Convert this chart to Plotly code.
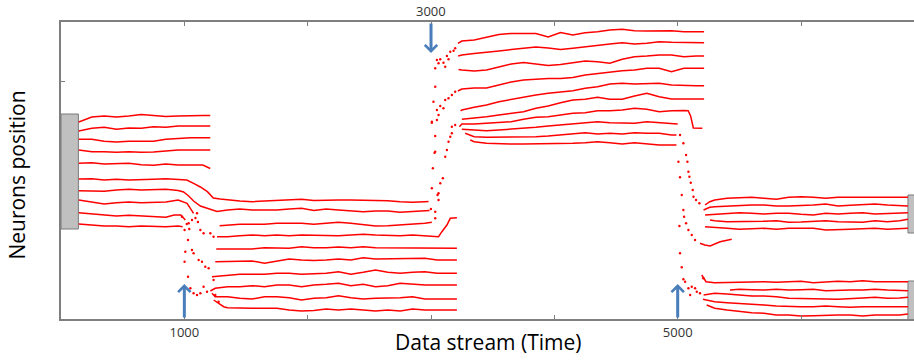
import plotly.graph_objects as go

# ---------------- data (time in samples, position in arbitrary units) ----------------
t_p1 = [144, 250, 350, 450, 550, 650, 750, 850, 950, 1050, 1150, 1210]
t_p2 = [1350, 1450, 1550, 1650, 1750, 1850, 1950, 2050, 2150, 2250, 2350, 2450,
        2550, 2650, 2750, 2850, 2950]
t_p2_tail = [3050, 3150, 3210]
t_p3 = [3250, 3350, 3450, 3550, 3650, 3750, 3850, 3950, 4050, 4150, 4250, 4350,
        4450, 4550, 4650, 4750, 4850, 4950, 5050, 5150]
t_p4 = [5300, 5400, 5500, 5600, 5700, 5800, 5900, 6000, 6100, 6200, 6300, 6400,
        6500, 6600, 6700, 6800]

# phase 1 neurons (first stable band)
n01 = [197, 202, 203, 202, 203, 204.5, 203.5, 202.5, 203, 203.5, 203.5, 203.5]
n02 = [188, 190.7, 191.7, 189.7, 191, 190.7, 192.3, 191.7, 193, 193, 193, 193]
n03 = [179.7, 179.7, 177.7, 177, 177.7, 177.7, 177.7, 179.7, 180.7, 181.3, 181.3, 181.3]
n04 = [169, 167.3, 167.3, 166.7, 167.3, 166.7, 167, 168.3, 169, 169, 169, 169]
n05 = [155.7, 156.3, 155, 155, 155.7, 154.3, 153.7, 155, 154, 154, 154, 150.5]

t_n06 = t_p1[:9] + [1020, 1075, 1130, 1187, 1235, 1290] + t_p2 + [2980]
n06 = [140, 140.3, 139, 139.7, 139, 139.7, 139.7, 140.3, 139.7,
       139, 135.7, 132, 127.3, 121, 120,
       119, 118, 117.3, 118, 119, 119, 119.7, 118.5, 119, 119, 119, 119, 118.3,
       118.3, 117.3, 116.7, 117.3, 117.5]
t_n07 = t_p1[:9] + [994, 1035, 1075, 1130, 1200, 1265] + t_p2 + [2988]
n07 = [128.3, 128.3, 127.7, 129, 129.7, 129, 129, 129.7, 128.5,
       127, 123, 118, 113, 110, 107.5,
       109, 110, 109, 109, 109, 110, 110.7, 108.5, 110, 109, 108, 107.3, 108,
       108, 106.7, 107.3, 108, 108.5]
t_n08 = t_p1[:9] + [1022, 1075]
n08 = [119, 117.3, 115, 116.3, 117, 116.3, 117, 117, 119, 115.7, 105.7]
t_n09 = t_p1[:8] + [918, 972, 1008]
n09 = [106.3, 105, 104, 103, 103.7, 103, 102.3, 101.7, 104, 104, 99]
t_n10 = t_p1[:9] + [986]
n10 = [95, 94, 93, 93, 92.3, 93, 92.3, 92.3, 93, 92.3]

# phase 2 neurons (lower band)
t_m03 = [1286] + t_p2 + [3007]
m03 = [93.3, 94, 94.7, 94.7, 94.7, 95.7, 95.7, 95.7, 94.7, 95.7, 96.7, 95.7, 94.7,
       93, 93.3, 94, 94.7, 95.7, 96.7]
t_m04 = [1265] + t_p2 + [2999, 3061, 3088, 3129, 3156, 3210]
m04 = [82.3, 82.3, 83.3, 84, 83.3, 84, 83.3, 84, 83.7, 83.3, 83.3, 84, 84.7, 84,
       83.3, 83.3, 84, 83.3, 82.3, 82.3, 87.3, 94, 100.7, 101.3]
t_m05 = [1259] + t_p2 + t_p2_tail
m05 = [70, 70, 70.7, 70, 71.3, 71.3, 70.7, 72.3, 71.3, 71.3, 72, 71.3, 72.3, 71.3,
       71.3, 70.7, 70.7, 71.3, 70.7, 70.7, 70.7]
t_m06 = [1251] + t_p2 + t_p2_tail
m06 = [57.3, 57.3, 57.3, 58, 55.7, 58, 60, 59, 58.5, 59, 60, 59, 61.3, 60, 60, 60,
       60, 60.7, 59, 59, 59]
t_m07 = [1224] + t_p2 + t_p2_tail
m07 = [42.3, 44, 44.7, 44.7, 44.7, 45.7, 45.7, 44.7, 45.5, 45.7, 47.3, 44.7, 46.7,
       49, 46.7, 45.7, 46.7, 47.3, 45.7, 45.7, 45.7]
t_m08 = [1211, 1250] + t_p2 + t_p2_tail
m08 = [28, 30.7, 32.3, 32.3, 33.3, 32.3, 34, 34, 32.3, 34, 34.7, 35.7, 33.3, 34.7,
       32.3, 33.3, 35.7, 34.7, 34, 34, 34, 34]
t_m09 = [1224, 1250] + t_p2 + t_p2_tail
m09 = [25.7, 22.3, 22.3, 20.7, 20, 22.3, 22.3, 21.3, 19, 20.7, 21.3, 23.3, 21.3, 20,
       20.7, 20.7, 21.3, 22.3, 20, 20, 20, 20]
t_m10 = [1238, 1319] + t_p2 + t_p2_tail
m10 = [19, 12.3, 11.3, 10.7, 10.7, 10.7, 10.7, 9, 8, 8.5, 10, 9, 10, 9, 8, 9, 8, 10,
       9, 9, 9, 9]

# phase 3 neurons (upper band)
t_u01 = [3218] + t_p3 + [5214]
u01 = [275.7, 278, 279, 282, 284.5, 285.5, 285.5, 285.5, 282, 286.5, 284, 286.3,
       287.3, 289, 289.7, 288.3, 288, 288.3, 288.3, 287.3, 287.3, 287.3]
t_u02 = [3220] + t_p3 + [5214]
u02 = [263, 264, 265.5, 266.5, 268, 269.5, 271, 272, 271, 269.5, 270.7, 272.3, 274,
       275, 276.3, 275, 275.7, 277.3, 276.7, 276.3, 276.3, 276.3]
t_u03 = [3223] + t_p3 + [5214]
u03 = [249.5, 249, 248, 249, 252, 255, 256.5, 255, 253.5, 254.5, 256, 258, 257.3,
       255.7, 259.7, 262.3, 263, 264, 264, 262.3, 263, 263]
t_u04 = [3218] + t_p3 + [5214]
u04 = [228, 230, 231, 231, 234, 237, 239, 240, 240.5, 240.5, 241.5, 244, 245.5,
       247.3, 248.3, 249, 250.7, 250.7, 247.3, 250.7, 250.7, 250.7]
t_u05 = [3240] + t_p3 + [5214]
u05 = [208, 209, 211.7, 214, 217.3, 219.7, 222.3, 224, 225.7, 227.3, 228.3, 230.7,
       232.3, 235, 235.7, 235, 235.7, 235.7, 234, 233.3, 233.3, 233.3]
t_u06 = t_p3 + [5214]
u06 = [199.7, 200.7, 202.3, 204, 205.7, 207.3, 210.7, 213, 216.3, 219, 219.7, 221.7,
       219.7, 219.7, 223, 225.7, 222.3, 220, 220, 220, 220]
t_u07 = [3230] + t_p3[:19] + [5085, 5105, 5127, 5200]
u07 = [192.3, 195, 195, 195.7, 196.3, 197.3, 199.7, 201.7, 202.3, 204, 205.7, 206.3,
       208.3, 208.3, 209, 210.7, 209.7, 207.3, 208.3, 208.5, 208.3, 203, 191, 190.7]
t_u08 = t_p3[:18] + [5000]
u08 = [189.7, 189, 188.3, 189, 189.7, 190.7, 191.7, 193, 194, 195, 195.7, 197.3,
       196.3, 195.7, 195.7, 197.3, 196.3, 195.7, 195]
t_u09 = [3277] + t_p3[1:18] + [4990]
u09 = [185.7, 182.3, 181.7, 181.7, 181.7, 182.3, 182.3, 183, 184, 185.7, 186.3, 185,
       185.7, 185, 186.3, 185.7, 185.7, 184, 184]
t_u10 = [3318] + t_p3[1:18] + [4990]
u10 = [179, 177.3, 175.7, 175, 175, 175, 175, 175, 175, 175.7, 176.3, 177.3, 176.3,
       175, 176.3, 175, 174, 174, 174]

# phase 4 neurons (two bands)
t_p01 = [5222, 5260] + t_p4 + [6867]
p01 = [114, 117.3, 119, 120.7, 121.3, 121.7, 120.7, 119.7, 121.7, 122.3, 121.7, 120.7,
       121.7, 121.7, 122.3, 121.7, 122.3, 122.3, 121.7]
t_p02 = [5210, 5260] + t_p4 + [6867]
p02 = [109, 111.7, 112.3, 113, 114, 114, 114, 113, 113, 113.3, 114, 115, 113, 113.7,
       114, 115, 114, 113.7, 113]
t_p03 = [5222] + t_p4 + [6867]
p03 = [104, 104.7, 105, 106.3, 105.7, 105, 105.7, 105.7, 104.7, 104, 105.7, 105,
       105.7, 106.3, 105, 105.7, 105.7, 106.3]
t_p04 = [5262] + t_p4 + [6867]
p04 = [99, 98.3, 97.3, 97.3, 97.3, 97.7, 98.3, 96.7, 97, 97.3, 98.3, 97.3, 97, 96.7,
       98.3, 97.3, 98.3, 99.7]
t_p05 = [5222] + t_p4 + [6867]
p05 = [92.3, 91.3, 90.7, 89.7, 90.3, 90.7, 89.7, 90.7, 90.7, 90.7, 89, 89.7, 89.7,
       90.3, 90.7, 89.7, 90.3, 90.7]
t_p06 = [5181, 5220, 5263, 5300, 5344, 5438]
p06 = [75.7, 74, 73, 75, 77.3, 79.7]
t_q01 = [5195, 5230] + t_p4 + [6867]
q01 = [44, 37.3, 36.3, 36.7, 37.3, 37, 37.3, 36.7, 37.3, 37.7, 36.3, 37.3, 37.7, 37.3,
       38.3, 37.3, 37.3, 37.7, 37.3]
t_q02 = [5424] + t_p4[2:] + [6867]
q02 = [29, 29.7, 29.3, 29, 29.7, 29, 29.3, 29.7, 28.3, 29, 29, 29, 29.7, 29, 28.7, 28.3]
t_q03 = [5210] + t_p4 + [6867]
q03 = [24, 25.7, 25, 24, 23, 23, 22.3, 20.7, 20.7, 20.7, 20, 19.7, 20.7, 21, 21.7,
       20.7, 21, 21.7]
t_q04 = [5205] + t_p4 + [6867]
q04 = [19.7, 17.3, 16.3, 15.7, 15, 14, 13, 12.3, 12.3, 12.3, 13, 12.3, 11.7, 12.3,
       12.3, 13, 12.3, 12.3]
t_q05 = [5235] + t_p4 + [6867]
q05 = [14, 10.7, 9, 7.3, 6.3, 5.7, 4, 4, 3, 3.3, 4, 4, 4, 3, 4, 4, 4, 5]

# scattered samples while neurons migrate after each change
jump1_t = [981, 1002, 1030, 1008, 1002, 1030, 1049, 1075, 1103, 1130, 1156, 1184,
           1062, 1075, 1116, 1143, 1170, 1197, 1130, 1156, 1035, 1062, 1103, 1211,
           1237, 1237, 1251, 1278, 1090, 1110, 1020, 1040]
jump1_v = [102.3, 89, 79, 67.3, 57.3, 42.3, 30.7, 25.7, 24, 25.7, 32.3, 27.3,
           69, 65.7, 59, 57.3, 52.3, 50.7, 89, 85.7, 95.7, 99, 105.7, 85.7,
           82.3, 39, 24, 17.3, 101, 97, 95, 90]
jump2_t = [3007, 3061, 3061, 2999, 3034, 3075, 3053, 3034, 3007, 3034, 3029, 3015,
           3096, 3115, 3034, 3129, 3142, 3156, 3169, 3169, 3196, 3007, 3048, 3061,
           3020, 3048, 3075, 3101, 3115, 3142, 3169, 3196, 3034, 3034, 3048, 3075,
           3061, 3101, 3115, 3142, 3129, 3156, 3183, 3196]
jump2_v = [130.7, 125.7, 119, 110, 100.7, 135.7, 124, 107.3, 196.3, 183, 166.3, 150.7,
           140.7, 162.3, 167.3, 169, 177.3, 182.3, 185.7, 192.3, 194, 197.3, 199, 204,
           217.3, 209, 213, 210.7, 219, 220.7, 224, 227.3, 232.3, 250.7, 259, 259.7,
           255.7, 256.3, 252.3, 259.7, 263, 267.3, 268.3, 270.7]
jump3_t = [5019, 5046, 5068, 5006, 5079, 5019, 5095, 5087, 5106, 5033, 5122, 5128,
           5149, 5176, 5046, 5052, 5014, 5068, 5087, 5114, 5141, 5019, 5033, 5046,
           5060, 5087, 5114, 5141, 5101, 5155, 5181, 5208]
jump3_v = [184, 175.7, 164, 157.3, 157.3, 141.7, 142.3, 147.3, 136.3, 124, 129, 122.3,
           119, 115.7, 109, 102.3, 93, 95.7, 89, 84, 79, 65.7, 51.7, 39.7,
           37.3, 30.7, 32.3, 30.7, 24, 27.3, 25.7, 40.7]

# initial / final neuron ranges (grey blocks): [t0, t1, v0, v1]
init_block = [0, 141, 90, 205]
final_block_upper = [6867, 7000, 86, 124]
final_block_lower = [6867, 7000, -5, 38]

# concept-drift markers
drift_t = [1000, 3000, 5000]
drift_from = [0, 297, 0]
drift_to = [35, 266, 35]

x_ticks = [1000, 2000, 3000, 4000, 5000, 6000]
x_ticktext = ["1000", "", "", "", "5000", ""]
top_label = "3000"

# ---------------- figure ----------------
RED = "#ff0000"
BLUE = "#4a7ebb"
AXIS = "#7f7f7f"
FONT = "Open Sans"

fig = go.Figure()

for blk in [init_block, final_block_upper, final_block_lower]:
    t0, t1, v0, v1 = blk
    fig.add_trace(go.Scatter(x=[t0, t1, t1, t0, t0], y=[v0, v0, v1, v1, v0],
                             mode="lines", fill="toself", fillcolor="#c0c0c0",
                             line=dict(color="#7a7a7a", width=1),
                             hoverinfo="skip", showlegend=False))

segments = [
    (t_p1, n01), (t_p1, n02), (t_p1, n03), (t_p1, n04), (t_p1, n05),
    (t_n06, n06), (t_n07, n07), (t_n08, n08), (t_n09, n09), (t_n10, n10),
    (t_m03, m03), (t_m04, m04), (t_m05, m05), (t_m06, m06), (t_m07, m07),
    (t_m08, m08), (t_m09, m09), (t_m10, m10),
    (t_u01, u01), (t_u02, u02), (t_u03, u03), (t_u04, u04), (t_u05, u05),
    (t_u06, u06), (t_u07, u07), (t_u08, u08), (t_u09, u09), (t_u10, u10),
    (t_p01, p01), (t_p02, p02), (t_p03, p03), (t_p04, p04), (t_p05, p05),
    (t_p06, p06),
    (t_q01, q01), (t_q02, q02), (t_q03, q03), (t_q04, q04), (t_q05, q05),
]
for tx, vy in segments:
    fig.add_trace(go.Scatter(x=tx, y=vy, mode="lines",
                             line=dict(color=RED, width=1.5),
                             hoverinfo="skip", showlegend=False))

for tx, vy in [(jump1_t, jump1_v), (jump2_t, jump2_v), (jump3_t, jump3_v)]:
    fig.add_trace(go.Scatter(x=tx, y=vy, mode="markers",
                             marker=dict(color=RED, size=2.4),
                             hoverinfo="skip", showlegend=False))

annotations = []
for t, a, b in zip(drift_t, drift_from, drift_to):
    annotations.append(dict(x=t, y=b, ax=t, ay=a, xref="x", yref="y",
                            axref="x", ayref="y", text="", showarrow=True,
                            arrowhead=4, arrowsize=0.8, arrowwidth=3,
                            arrowcolor=BLUE, standoff=0, startstandoff=0))
annotations.append(dict(x=3000, y=1.037, xref="x", yref="paper", text=top_label,
                        showarrow=False, yanchor="middle",
                        font=dict(family=FONT, size=13, color="#333333")))
annotations.append(dict(x=0.5, y=-0.078, xref="paper", yref="paper",
                        text="Data stream (Time)", showarrow=False,
                        yanchor="middle", xanchor="center",
                        font=dict(family=FONT, size=21, color="#000000")))
annotations.append(dict(x=-0.052, y=0.485, xref="paper", yref="paper",
                        text="Neurons position", showarrow=False, textangle=-90,
                        yanchor="middle", xanchor="center",
                        font=dict(family=FONT, size=21, color="#000000")))

fig.update_layout(
    width=914, height=362,
    margin=dict(l=61, r=0, t=22, b=43),
    paper_bgcolor="white", plot_bgcolor="white",
    showlegend=False,
    hovermode=False,
    annotations=annotations,
    xaxis=dict(range=[0, 6916], showline=True, linecolor=AXIS, linewidth=2,
               mirror="ticks", ticks="inside", ticklen=4, tickwidth=1,
               tickcolor=AXIS, tickvals=x_ticks, ticktext=x_ticktext,
               tickfont=dict(family=FONT, size=13, color="#333333"),
               showgrid=False, zeroline=False),
    yaxis=dict(range=[0, 297], showline=True, linecolor=AXIS, linewidth=2,
               ticks="inside", ticklen=4, tickwidth=1, tickcolor=AXIS,
               tickvals=[238], showticklabels=False,
               showgrid=False, zeroline=False),
)

fig.write_html("out.html", config={"displayModeBar": False},
               post_script="document.body.style.margin='0px';document.body.style.overflow='hidden';")
